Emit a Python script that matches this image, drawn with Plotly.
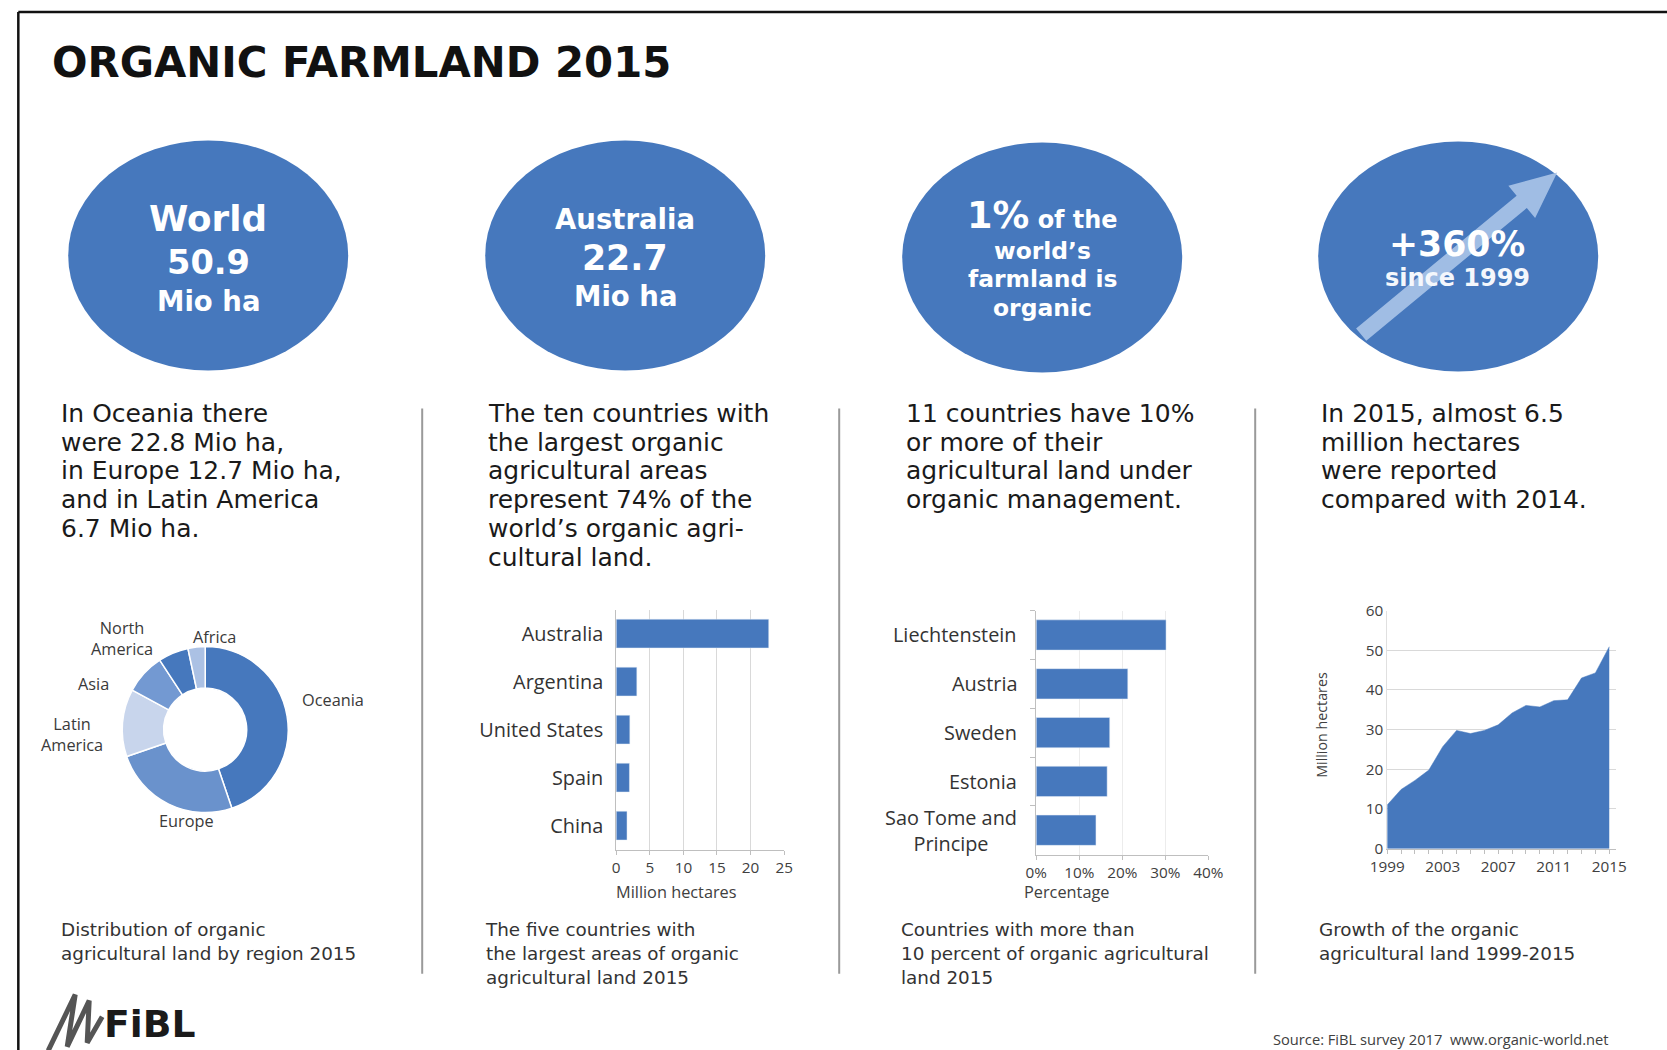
import math
import plotly.graph_objects as go

# Measured placement of the figure inside the final picture:
# picture_px = A + S * figure_px.  Positions below are given in picture pixels.
AX, AY, S = 15.8, 10.5, 0.981
WF, HF = 1684, 1061
FS = 1 / S  # font / size compensation

# ---------------- data ----------------
regions = ["Oceania", "Europe", "Latin America", "Asia", "North America", "Africa"]
region_area = [22.8, 12.7, 6.7, 4.0, 3.0, 1.7]
region_colors = ["#4678bd", "#6a92cc", "#c8d5ec", "#7399d2", "#4678bd", "#abc1e4"]

top_countries = ["Australia", "Argentina", "United States", "Spain", "China"]
top_area = [22.7, 3.07, 2.03, 1.97, 1.61]

share_countries = ["Liechtenstein", "Austria", "Sweden", "Estonia", "Sao Tome and Principe"]
share_labels = ["Liechtenstein", "Austria", "Sweden", "Estonia", "Sao Tome and<br>Principe"]
share_pct = [30.2, 21.3, 17.1, 16.5, 13.9]

years = list(range(1999, 2016))
world_area = [11.0, 14.9, 17.2, 19.8, 25.7, 29.8, 29.0, 29.8, 31.2, 34.2, 36.1,
              35.7, 37.3, 37.5, 43.0, 44.3, 50.9]

BLUE = "#4678bd"
SANS = "DejaVu Sans"
HUM = "Open Sans"


def X(px):
    return ((px - AX) / S) / WF


def Y(py):
    return 1 - ((py - AY) / S) / HF


def fs(v):
    return round(v * FS, 2)


fig = go.Figure()

# ---------------- charts ----------------
fig.add_trace(go.Pie(
    values=region_area, labels=regions, hole=0.5, sort=False,
    direction="clockwise", rotation=0, textinfo="none",
    marker=dict(colors=region_colors, line=dict(color="white", width=1.5)),
    domain=dict(x=[X(204 - 83), X(204 + 83)], y=[Y(729 + 83), Y(729 - 83)]),
    showlegend=False, hoverinfo="skip"))

fig.add_trace(go.Bar(
    x=top_area, y=top_countries, orientation="h", width=[0.6] * 5,
    marker_color=BLUE, xaxis="x", yaxis="y", hoverinfo="skip"))

fig.add_trace(go.Bar(
    x=share_pct, y=share_countries, orientation="h", width=[0.62] * 5,
    marker_color=BLUE, xaxis="x2", yaxis="y2", hoverinfo="skip"))

fig.add_trace(go.Scatter(
    x=years, y=world_area, mode="lines", fill="tozeroy",
    line=dict(color=BLUE, width=0.5), fillcolor=BLUE,
    xaxis="x3", yaxis="y3", hoverinfo="skip"))

tickfont = dict(family=HUM, size=fs(15), color="#404040")
catfont = dict(family=HUM, size=fs(19.5), color="#333333")
grid = "#d9d9d9"
axl = "#bfbfbf"

layout = dict(
    width=WF, height=HF, margin=dict(l=0, r=0, t=0, b=0),
    paper_bgcolor="white", plot_bgcolor="rgba(0,0,0,0)",
    showlegend=False, hovermode=False,
    xaxis=dict(domain=[X(615), X(783)], range=[0, 25], dtick=5,
               showgrid=True, gridcolor=grid, zeroline=False,
               showline=True, linecolor=axl, ticks="outside", ticklen=4,
               tickcolor=axl, tickfont=tickfont, anchor="y", fixedrange=True),
    yaxis=dict(domain=[Y(849), Y(609)], type="category",
               categoryorder="array", categoryarray=top_countries,
               range=[4.5, -0.5], showline=True, linecolor=axl,
               tickfont=catfont, ticks="", ticklabelstandoff=8,
               anchor="x", fixedrange=True),
    xaxis2=dict(domain=[X(1035), X(1207)], range=[0, 40], dtick=10,
                ticksuffix="%", showgrid=True, gridcolor="#ececec",
                zeroline=False, showline=True, linecolor=axl,
                ticks="outside", ticklen=4, tickcolor=axl,
                tickfont=tickfont, anchor="y2", fixedrange=True),
    yaxis2=dict(domain=[Y(854), Y(610)], type="category",
                categoryorder="array", categoryarray=share_countries,
                range=[4.5, -0.5], showline=True, linecolor=axl,
                showticklabels=False, ticks="outside", tickson="boundaries",
                ticklen=5, tickcolor=axl, anchor="x2", fixedrange=True),
    xaxis3=dict(domain=[X(1386), X(1615)], range=[1999, 2015.5],
                tickvals=[1999, 2003, 2007, 2011, 2015],
                showgrid=False, zeroline=False, showline=True, linecolor=axl,
                ticks="outside", ticklen=4, tickcolor=axl,
                minor=dict(dtick=1, tick0=1999, ticks="outside", ticklen=4,
                           tickcolor=axl, showgrid=False),
                tickfont=tickfont, anchor="y3", fixedrange=True),
    yaxis3=dict(domain=[Y(848), Y(610)], range=[0, 60], dtick=10,
                showgrid=True, gridcolor=grid, zeroline=False,
                showline=True, linecolor="#e0e0e0", ticks="",
                tickfont=tickfont, anchor="x3", fixedrange=True),
)
fig.update_layout(**layout)

shapes = []
anns = []


def txt(x, y, s, size, color="#1a1a1a", family=SANS, weight="normal",
        xanchor="left", align="left"):
    anns.append(dict(
        x=X(x), y=Y(y), xref="paper", yref="paper",
        text=s, showarrow=False, xanchor=xanchor, yanchor="middle",
        align=align,
        font=dict(family=family, size=fs(size), color=color, weight=weight)))


# frame (top and left edges)
shapes.append(dict(type="line", xref="paper", yref="paper",
                   x0=0.0008, y0=0.9990, x1=1, y1=0.9990,
                   line=dict(color="#111111", width=2.5)))
shapes.append(dict(type="line", xref="paper", yref="paper",
                   x0=0.0008, y0=0.9990, x1=0.0008, y1=0,
                   line=dict(color="#111111", width=2.5)))

# title
txt(49, 62, "ORGANIC FARMLAND 2015", 41, color="#111111", weight="bold")

# circles
circle_centers = [(207, 255), (624, 255), (1041, 257), (1457, 256)]
RX, RY = 140, 115
for cx, cy in circle_centers:
    shapes.append(dict(type="circle", xref="paper", yref="paper",
                       x0=X(cx - RX), x1=X(cx + RX), y0=Y(cy + RY), y1=Y(cy - RY),
                       fillcolor=BLUE, line=dict(width=0), layer="below"))

# arrow in 4th circle
tail = (1360, 334)
tip = (1556, 172)
dx, dy = tip[0] - tail[0], tip[1] - tail[1]
L = math.hypot(dx, dy)
ux, uy = dx / L, dy / L
nx, ny = -uy, ux
hl, hw, sw = 46, 21, 8
bx, by = tip[0] - ux * hl, tip[1] - uy * hl
pts = [
    (tail[0] + nx * sw, tail[1] + ny * sw),
    (bx + nx * sw, by + ny * sw),
    (bx + nx * hw, by + ny * hw),
    tip,
    (bx - nx * hw, by - ny * hw),
    (bx - nx * sw, by - ny * sw),
    (tail[0] - nx * sw, tail[1] - ny * sw),
]
path = "M " + " L ".join(f"{X(px):.5f},{Y(py):.5f}" for px, py in pts) + " Z"
shapes.append(dict(type="path", xref="paper", yref="paper", path=path,
                   fillcolor="rgba(170,196,232,0.9)", line=dict(width=0)))

WHITE = "#ffffff"
C = dict(weight="bold", xanchor="center", align="center")
# circle texts
txt(207, 218, "World", 35, WHITE, **C)
txt(207, 262, "50.9", 33, WHITE, **C)
txt(207, 300, "Mio ha", 27, WHITE, **C)

txt(624, 218, "Australia", 27, WHITE, **C)
txt(624, 257, "22.7", 34, WHITE, **C)
txt(624, 295, "Mio ha", 27, WHITE, **C)

txt(1041, 215, f"<span style='font-size:{fs(36)}px'>1%</span> of the", 23.5, WHITE, **C)
txt(1041, 250, "world’s", 23, WHITE, **C)
txt(1041, 278, "farmland is", 23, WHITE, **C)
txt(1041, 307, "organic", 23, WHITE, **C)

txt(1456, 243, "+360%", 34, WHITE, **C)
txt(1456, 277, "since 1999", 23.5, "#f4f7fc", **C)

# body text
body = [
    (58, ["In Oceania there", "were 22.8 Mio ha,", "in Europe 12.7 Mio ha,",
          "and in Latin America", "6.7 Mio ha."]),
    (485, ["The ten countries with", "the largest organic", "agricultural areas",
           "represent 74% of the", "world’s organic agri-", "cultural land."]),
    (903, ["11 countries have 10%", "or more of their", "agricultural land under",
           "organic management."]),
    (1318, ["In 2015, almost 6.5", "million hectares", "were reported",
            "compared with 2014."]),
]
for x0, lines in body:
    for i, line in enumerate(lines):
        txt(x0, 413 + i * 28.7, line, 24.5, "#1a1a1a")

# separators
for sx in (421, 838, 1254):
    shapes.append(dict(type="line", xref="paper", yref="paper",
                       x0=X(sx), x1=X(sx), y0=Y(408), y1=Y(973),
                       line=dict(color="#9a9a9a", width=2)))

# captions (one multi-line text each; 18px * 1.3 line height = 23.4px spacing)
captions = [
    (58, ["Distribution of organic", "agricultural land by region 2015"]),
    (482, ["The five countries with", "the largest areas of organic",
           "agricultural land 2015"]),
    (898, ["Countries with more than", "10 percent of organic agricultural",
           "land 2015"]),
    (1316, ["Growth of the organic", "agricultural land 1999-2015"]),
]
for x0, lines in captions:
    yc = 929 + (len(lines) - 1) * 23.4 / 2
    txt(x0, yc, "<br>".join(lines), 18, "#333333", family=SANS)

# donut labels
lab = dict(size=16, color="#3a3a3a", family=HUM, xanchor="center", align="center")
txt(332, 699, "Oceania", **lab)
txt(185, 820, "Europe", **lab)
txt(71, 734, "Latin<br>America", **lab)
txt(92, 683, "Asia", **lab)
txt(121, 638, "North<br>America", **lab)
txt(213, 636, "Africa", **lab)

# axis titles
txt(675, 891, "Million hectares", 16, "#404040", family=HUM, xanchor="center")
txt(1065, 891, "Percentage", 16, "#404040", family=HUM, xanchor="center")
anns.append(dict(x=X(1320), y=Y(724), xref="paper", yref="paper",
                 text="Million hectares", textangle=-90, showarrow=False,
                 xanchor="center", yanchor="middle",
                 font=dict(family=HUM, size=fs(14), color="#404040")))

# chart 3 category labels placed via the category axis
for cat, label in zip(share_countries, share_labels):
    anns.append(dict(x=X(1018), y=cat, xref="paper", yref="y2", text=label,
                     showarrow=False, xanchor="right", yanchor="middle",
                     align="center", font=catfont))

# source
txt(1609, 1038, "Source: FiBL survey 2017  www.organic-world.net", 14.4,
    "#404040", family=HUM, xanchor="right")

# FiBL logo
scrib = [(47, 1050), (74, 994), (66, 1046), (88, 1000), (86, 1042), (101, 1016)]
spath = "M " + " L ".join(f"{X(px):.5f},{Y(py):.5f}" for px, py in scrib)
shapes.append(dict(type="path", xref="paper", yref="paper", path=spath,
                   line=dict(color="#555555", width=5)))
txt(101, 1023, "FiBL", 37, "#1a1a1a", weight="bold")

fig.update_layout(shapes=shapes, annotations=anns)

fig.write_html("out.html", config={"displayModeBar": False, "staticPlot": True})
